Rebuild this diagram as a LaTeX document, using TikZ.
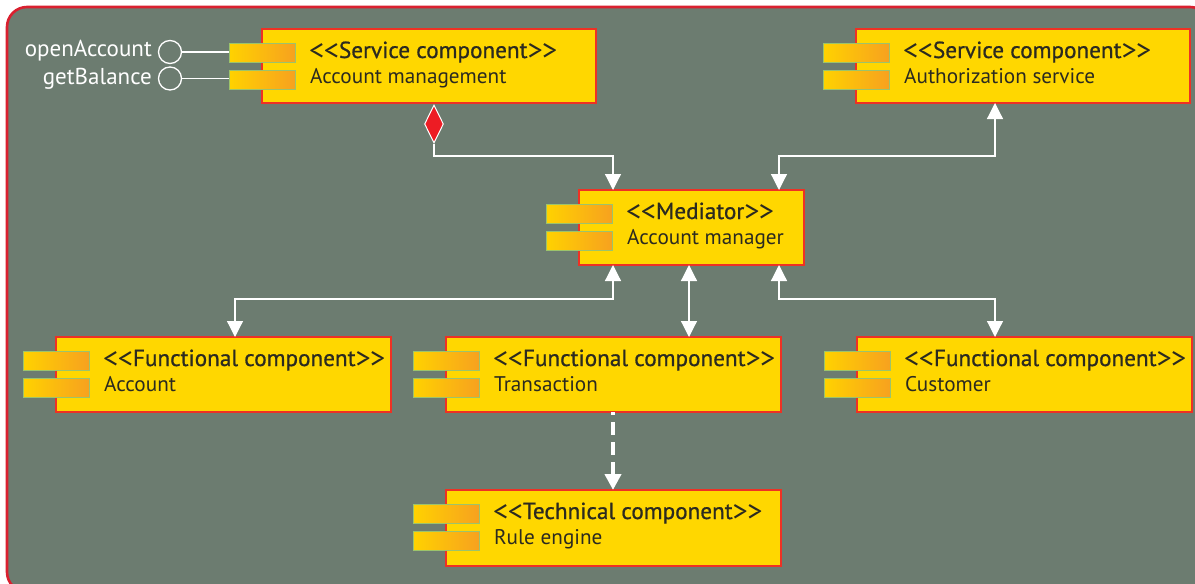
\documentclass[tikz,border=0pt]{standalone}
\usepackage{fontspec}
\setmainfont{PT Sans}
\newfontfamily\titlef[FakeBold=0.8]{PT Sans}
\usetikzlibrary{arrows.meta,shapes.geometric,calc}
\definecolor{bg}{HTML}{6C7C70}
\definecolor{frame}{HTML}{D9202F}
\definecolor{dia}{HTML}{ED1C24}
\definecolor{boxy}{HTML}{FFD700}
\definecolor{boxline}{HTML}{EE3124}
\definecolor{portl}{HTML}{FFD200}
\definecolor{portr}{HTML}{F7A11F}
\definecolor{portline}{HTML}{9CC36B}
\definecolor{ink}{HTML}{2B2A20}
\newcommand{\chev}[1]{\raisebox{-2.5pt}{\fontsize{30}{30}\selectfont\addfontfeature{FakeBold=0}{#1}\kern-0.5pt{#1}}}
\tikzset{
  compbox/.style={draw=boxline,fill=boxy,line width=1.4pt,anchor=north west,inner sep=0pt,outer sep=0pt},
  portbox/.style={draw=portline,left color=portl,right color=portr,line width=1.1pt,anchor=north west,minimum width=66.5pt,minimum height=19pt,inner sep=0pt},
  titletext/.style={anchor=base west,inner sep=0pt,text=ink,font=\fontsize{23.2}{26}\selectfont\titlef},
  subtext/.style={anchor=base west,inner sep=0pt,text=ink,font=\fontsize{21.2}{24}\selectfont},
  ifacetext/.style={anchor=base east,inner sep=0pt,text=white,font=\fontsize{23}{26}\selectfont},
  iface/.style={circle,draw=white,line width=1.3pt,minimum size=23pt,inner sep=0pt},
  wire/.style={draw=white,line width=1.2pt},
  wirearrow/.style={wire,-{Triangle[width=16pt,length=16pt,fill=white]}},
  wirearrows/.style={wire,{Triangle[width=16pt,length=16pt,fill=white]}-{Triangle[width=16pt,length=16pt,fill=white]}},
  dep/.style={draw=white,line width=4pt,dash pattern=on 13pt off 7pt,dash phase=10pt,-{Triangle[width=16pt,length=16pt,fill=white]}}
}
% name, x, y, width, height, title, subtitle
\newcommand{\compo}[7]{
  \node[compbox,minimum width=#4pt,minimum height=#5pt] (#1) at (#2,#3) {};
  \node[portbox] (#1p1) at ($(#2,#3)+(-33.5,13.5)$) {};
  \node[portbox] (#1p2) at ($(#2,#3)+(-33.5,40.5)$) {};
  \node[titletext] (#1t) at ($(#2,#3)+(47,29)$) {\chev{<}#6\chev{>}};
  \node[subtext] (#1s) at ($(#2,#3)+(48,54.5)$) {#7};
}
\begin{document}
\begin{tikzpicture}[x=1pt,y=-1pt]
\useasboundingbox (0,0) rectangle (1195,584);
\fill[white] (0,0) rectangle (1195,584);
\draw[frame,fill=bg,line width=2.6pt,rounded corners=20pt] (7,7) rectangle (1210,592);

\compo{svc}{262}{29}{334}{74}{Service component}{Account management}
\compo{auth}{856}{29}{334}{74}{Service component}{Authorization service}
\compo{med}{579}{190}{225}{75}{Mediator}{Account manager}
\compo{acct}{56}{337}{335}{75}{Functional component}{Account}
\compo{trans}{446}{337}{335}{75}{Functional component}{Transaction}
\compo{cust}{857}{337}{335}{75}{Functional component}{Customer}
\compo{rule}{446}{490}{335}{76}{Technical component}{Rule engine}

\node[iface] (open) at (170,52) {};
\node[iface] (bal) at (170,78.5) {};
\node[ifacetext] (openl) at (152,56) {openAccount};
\node[ifacetext] (ball) at (152,84.5) {getBalance};
\draw[wire] (open.east) -- (open.east -| svcp1.west);
\draw[wire] (bal.east) -- (bal.east -| svcp2.west);

\node[diamond,draw=white,fill=dia,line width=1pt,minimum width=19pt,minimum height=38pt,inner sep=0pt,aspect=0.5] (dia) at (434,124) {};

% attachment points
\coordinate (medtopl) at (613,190);
\coordinate (medtopr) at (779,190);
\coordinate (medbotl) at (613,265);
\coordinate (medbotm) at (689,265);
\coordinate (medbotr) at (779,265);
\coordinate (authbot) at (995,103);
\coordinate (accttop) at (235,337);
\coordinate (transtop) at (689,337);
\coordinate (custtop) at (995,337);
\coordinate (transbot) at (613,412);
\coordinate (ruletop) at (613,490);
\coordinate (j1) at (613,156);
\coordinate (j2) at (995,156);
\coordinate (j3) at (613,299);
\coordinate (j4) at (779,299);

\draw[wirearrow] (dia.south) |- (j1) -- (medtopl);
\draw[wirearrows] (authbot) -- (j2) -- (j2 -| medtopr) -- (medtopr);
\draw[wirearrows] (medbotl) -- (j3) -- (j3 -| accttop) -- (accttop);
\draw[wirearrows] (medbotm) -- (transtop);
\draw[wirearrows] (medbotr) -- (j4) -- (j4 -| custtop) -- (custtop);
\draw[dep] (transbot) -- (ruletop);
\end{tikzpicture}
\end{document}
